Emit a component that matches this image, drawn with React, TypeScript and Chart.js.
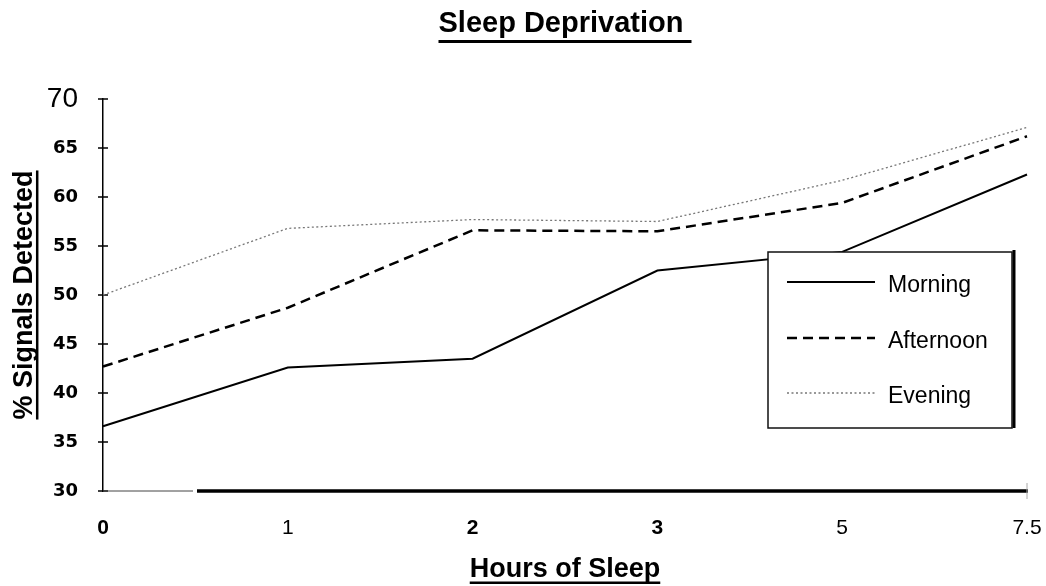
import React, { useEffect, useRef } from 'react';
import { Chart, registerables } from 'chart.js';

Chart.register(...registerables);

const hours = ['0', '1', '2', '3', '5', '7.5'];
const morning = [36.6, 42.6, 43.5, 52.5, 54.4, 62.3];
const afternoon = [42.7, 48.7, 56.6, 56.5, 59.4, 66.2];
const evening = [50.0, 56.8, 57.7, 57.5, 61.7, 67.1];
const yTicks = [30, 35, 40, 45, 50, 55, 60, 65, 70];
const seriesLabels = ['Morning', 'Afternoon', 'Evening'];
const chartTitle = 'Sleep Deprivation ';
const xTitle = 'Hours of Sleep';
const yTitle = '% Signals Detected';

const SANS = "'Liberation Sans', Arial, Helvetica, sans-serif";
const WIDE = "'DejaVu Sans', 'Liberation Sans', sans-serif";

function seg(ctx: CanvasRenderingContext2D, x1: number, y1: number, x2: number, y2: number) {
  ctx.beginPath();
  ctx.moveTo(x1, y1);
  ctx.lineTo(x2, y2);
  ctx.stroke();
}

const decor = {
  id: 'decor',
  beforeDatasetsDraw(chart: any) {
    const { ctx, chartArea: a, scales } = chart;
    const y = scales.y;
    ctx.save();
    ctx.strokeStyle = '#000';
    ctx.lineWidth = 1.5;
    y.ticks.forEach((t: any) => {
      const py = y.getPixelForValue(t.value);
      seg(ctx, a.left - 5, py, a.left + 5, py);
    });
    ctx.lineWidth = 1;
    ctx.strokeStyle = '#444';
    seg(ctx, a.left, a.bottom, a.left + 90, a.bottom);
    ctx.lineWidth = 3.5;
    ctx.strokeStyle = '#000';
    seg(ctx, a.left + 94, a.bottom, a.right + 1, a.bottom);
    ctx.lineWidth = 1;
    ctx.strokeStyle = '#aaa';
    seg(ctx, a.right, a.bottom - 8, a.right, a.bottom + 8);
    ctx.restore();
  },
  afterDraw(chart: any) {
    const { ctx, chartArea: a, scales } = chart;
    ctx.save();
    ctx.strokeStyle = '#000';
    const tb = chart.titleBlock;
    if (tb) {
      ctx.font = `bold 29px ${SANS}`;
      const w = ctx.measureText(chartTitle).width;
      const cx = tb.left + tb.width / 2;
      const cy = tb.top + 7 + 17.4;
      ctx.lineWidth = 3;
      seg(ctx, cx - w / 2, cy + 17, cx + w / 2, cy + 17);
    }
    const xs = scales.x;
    ctx.font = `bold 27px ${SANS}`;
    const wx = ctx.measureText(xTitle).width;
    const xcx = (xs.left + xs.right) / 2;
    const xcy = xs.bottom - 16.2;
    ctx.lineWidth = 2.5;
    seg(ctx, xcx - wx / 2, xcy + 13, xcx + wx / 2, xcy + 13);
    const ys = scales.y;
    const wy = ctx.measureText(yTitle).width;
    const ycx = ys.left + 16.2 + 8;
    const ycy = (ys.top + ys.bottom) / 2;
    seg(ctx, ycx + 13, ycy - wy / 2, ycx + 13, ycy + wy / 2);

    const L = a.right - 259, T = a.top + 153, R = a.right - 15, B = a.top + 329;
    ctx.fillStyle = '#fff';
    ctx.fillRect(L, T, R - L, B - T);
    ctx.lineWidth = 1.5;
    ctx.strokeStyle = '#111';
    ctx.strokeRect(L, T, R - L, B - T);
    ctx.lineWidth = 3;
    ctx.strokeStyle = '#000';
    seg(ctx, R + 2, T - 2, R + 2, B);
    const rows = [T + 30, T + 86, T + 141];
    chart.data.datasets.forEach((ds: any, i: number) => {
      const ly = rows[i];
      ctx.save();
      ctx.strokeStyle = ds.borderColor;
      ctx.lineWidth = ds.borderWidth;
      ctx.setLineDash(ds.borderDash || []);
      seg(ctx, L + 19, ly, L + 107, ly);
      ctx.restore();
      ctx.fillStyle = '#000';
      ctx.font = `23px ${SANS}`;
      ctx.textAlign = 'left';
      ctx.textBaseline = 'middle';
      ctx.fillText(ds.label, L + 120, ly + 4);
    });
    ctx.restore();
  },
};

export default function App() {
  const ref = useRef<HTMLCanvasElement | null>(null);
  useEffect(() => {
    document.body.style.margin = '0';
    const canvas = ref.current;
    if (!canvas) return;
    const chart = new Chart(canvas, {
      type: 'line',
      data: {
        labels: hours,
        datasets: [
          { label: seriesLabels[0], data: morning, borderColor: '#000', borderWidth: 2, pointRadius: 0, tension: 0, fill: false },
          { label: seriesLabels[1], data: afternoon, borderColor: '#000', borderWidth: 2.5, borderDash: [10, 6], pointRadius: 0, tension: 0, fill: false },
          { label: seriesLabels[2], data: evening, borderColor: '#777', borderWidth: 1.3, borderDash: [2, 2.5], pointRadius: 0, tension: 0, fill: false },
        ],
      },
      options: {
        responsive: false,
        animation: false,
        devicePixelRatio: 1,
        layout: { padding: { left: 0, right: 19, top: 0, bottom: 0 } },
        plugins: {
          legend: { display: false },
          tooltip: { enabled: false },
          title: {
            display: true,
            text: chartTitle,
            fullSize: false,
            color: '#000',
            font: { family: SANS, size: 29, weight: 'bold', lineHeight: 1.2 },
            padding: { top: 7, bottom: 57.2 },
          },
        },
        scales: {
          x: {
            type: 'category',
            offset: false,
            grid: { display: false, drawTicks: false },
            border: { display: false },
            ticks: {
              color: '#000',
              padding: 25,
              maxRotation: 0,
              autoSkip: false,
              font: (c: any) => ({
                family: SANS,
                size: 21,
                weight: [0, 2, 3].includes(c.index) ? 'bold' : 'normal',
                lineHeight: 1.2,
              }),
            },
            title: {
              display: true,
              text: xTitle,
              color: '#000',
              font: { family: SANS, size: 27, weight: 'bold', lineHeight: 1.2 },
              padding: { top: 0, bottom: 0 },
            },
            afterFit: (s: any) => { s.height = 95; s.paddingLeft = 0; s.paddingRight = 0; },
          },
          y: {
            min: 30,
            max: 70,
            grid: { display: false, drawTicks: false },
            border: { display: true, color: '#000', width: 1.5 },
            afterBuildTicks: (s: any) => { s.ticks = yTicks.map((v) => ({ value: v })); },
            ticks: {
              color: '#000',
              padding: 25,
              font: (c: any) => (c.tick && c.tick.value === 70
                ? { family: SANS, size: 28, weight: 'normal', lineHeight: 1.2 }
                : { family: WIDE, size: 18, weight: 'bold', lineHeight: 1.2 }),
            },
            title: {
              display: true,
              text: yTitle,
              color: '#000',
              font: { family: SANS, size: 27, weight: 'bold', lineHeight: 1.2 },
              padding: { top: 8, bottom: 0 },
            },
            afterFit: (s: any) => { s.width = 103; s.paddingTop = 0; s.paddingBottom = 0; },
          },
        },
      },
      plugins: [decor],
    } as any);
    return () => chart.destroy();
  }, []);
  return (
    <div style={{ width: 1046, height: 586, overflow: 'hidden' }}>
      <canvas ref={ref} width={1046} height={586} style={{ display: 'block' }} />
    </div>
  );
}
